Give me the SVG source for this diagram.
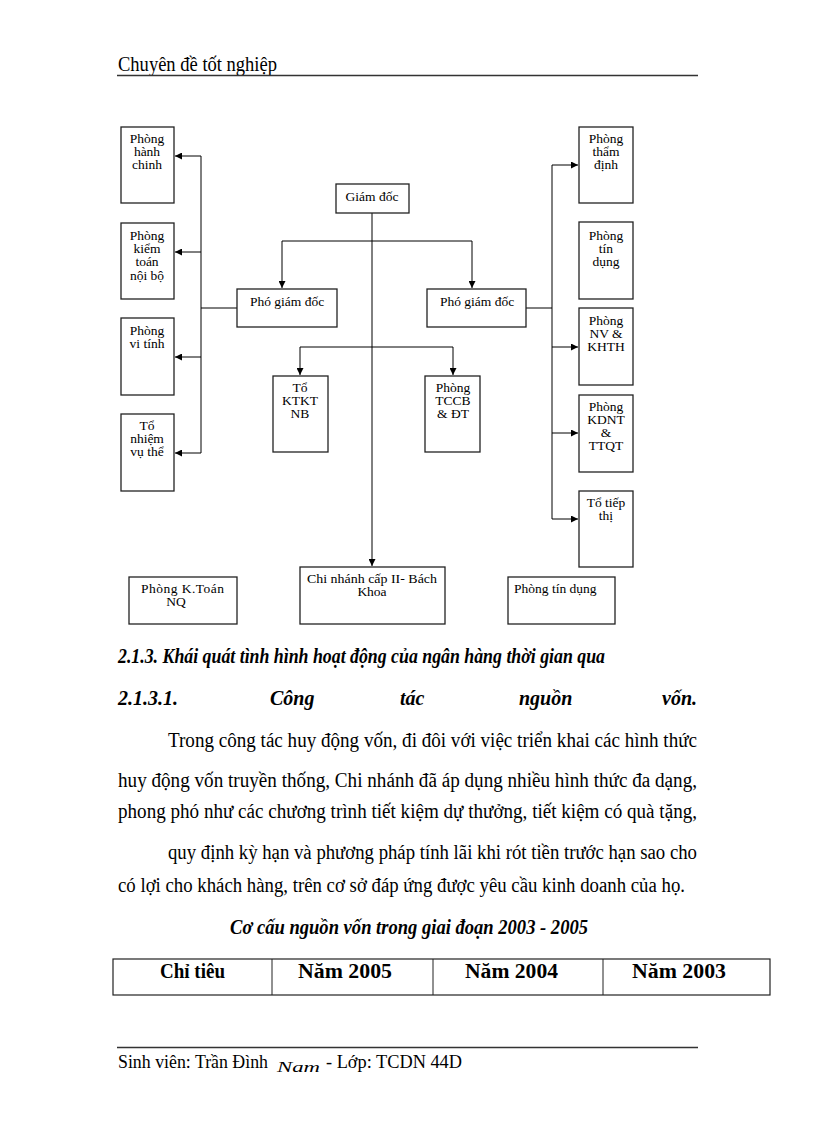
<svg xmlns="http://www.w3.org/2000/svg" width="816" height="1123" viewBox="0 0 816 1123">
<style>
.box{fill:#fff;stroke:#222;stroke-width:1.3}
.ln{fill:none;stroke:#000;stroke-width:1}
.t{font-family:"Liberation Serif","Times New Roman",serif;font-size:13.5px;fill:#000;text-anchor:middle}
.tl{font-family:"Liberation Serif","Times New Roman",serif;font-size:13.5px;fill:#000}
.p{font-family:"Liberation Serif","Times New Roman",serif;font-size:20px;fill:#000}
.h{font-family:"Liberation Serif","Times New Roman",serif;font-size:20px;font-weight:bold;font-style:italic;fill:#000}
.th{font-family:"Liberation Serif","Times New Roman",serif;font-size:20px;font-weight:bold;fill:#000}
</style>
<defs>
<marker id="ah" viewBox="0 0 10 10" refX="10" refY="5" markerWidth="7" markerHeight="7" markerUnits="userSpaceOnUse" orient="auto">
<path d="M0,0 L10,5 L0,10 z" fill="#000"/>
</marker>
</defs>
<rect width="816" height="1123" fill="#fff"/>

<!-- header -->
<text x="118" y="71" font-family="Liberation Serif, Times New Roman, serif" font-size="20" fill="#000" textLength="159" lengthAdjust="spacingAndGlyphs">Chuyên  đề tốt nghiệp</text>
<line x1="117" y1="75.5" x2="698" y2="75.5" stroke="#333" stroke-width="1.5"/>

<!-- connectors -->
<g id="connectors">
<path class="ln" d="M372,213 V566" marker-end="url(#ah)"/>
<path class="ln" d="M282,241 H472"/>
<path class="ln" d="M282,241 V288" marker-end="url(#ah)"/>
<path class="ln" d="M472,241 V288" marker-end="url(#ah)"/>
<path class="ln" d="M237,308 H201"/>
<path class="ln" d="M201,156 V453"/>
<path class="ln" d="M201,156 H175" marker-end="url(#ah)"/>
<path class="ln" d="M201,252 H175" marker-end="url(#ah)"/>
<path class="ln" d="M201,357 H175" marker-end="url(#ah)"/>
<path class="ln" d="M201,453 H175" marker-end="url(#ah)"/>
<path class="ln" d="M526,308 H552"/>
<path class="ln" d="M552,165 V519"/>
<path class="ln" d="M552,165 H578" marker-end="url(#ah)"/>
<path class="ln" d="M552,347 H578" marker-end="url(#ah)"/>
<path class="ln" d="M552,433 H578" marker-end="url(#ah)"/>
<path class="ln" d="M552,519 H578" marker-end="url(#ah)"/>
<path class="ln" d="M300,347 H453"/>
<path class="ln" d="M300,347 V375" marker-end="url(#ah)"/>
<path class="ln" d="M453,347 V375" marker-end="url(#ah)"/>
</g>

<!-- nodes -->
<g id="giam-doc"><rect class="box" x="336" y="184" width="73" height="29"/><text class="t" x="372" y="201">Giám đốc</text></g>
<g id="pgd-trai"><rect class="box" x="237" y="289" width="100" height="38"/><text class="t" x="287" y="306">Phó giám đốc</text></g>
<g id="pgd-phai"><rect class="box" x="427" y="289" width="99" height="38"/><text class="t" x="477" y="306">Phó giám đốc</text></g>

<g id="phong-hanh-chinh"><rect class="box" x="121" y="127" width="53" height="76"/><text class="t" x="147" y="143">Phòng</text><text class="t" x="147" y="156">hành</text><text class="t" x="147" y="169">chinh</text></g>
<g id="phong-kiem-toan"><rect class="box" x="121" y="223" width="53" height="76"/><text class="t" x="147" y="240">Phòng</text><text class="t" x="147" y="253">kiểm</text><text class="t" x="147" y="266">toán</text><text class="t" x="147" y="280">nội bộ</text></g>
<g id="phong-vi-tinh"><rect class="box" x="121" y="318" width="53" height="77"/><text class="t" x="147" y="335">Phòng</text><text class="t" x="147" y="348">vi tính</text></g>
<g id="to-nhiem-vu"><rect class="box" x="121" y="414" width="53" height="77"/><text class="t" x="147" y="430">Tổ</text><text class="t" x="147" y="443">nhiệm</text><text class="t" x="147" y="456">vụ thể</text></g>

<g id="to-ktkt"><rect class="box" x="273" y="376" width="55" height="76"/><text class="t" x="300" y="392">Tổ</text><text class="t" x="300" y="405">KTKT</text><text class="t" x="300" y="418">NB</text></g>
<g id="phong-tccb"><rect class="box" x="425" y="376" width="55" height="76"/><text class="t" x="453" y="392">Phòng</text><text class="t" x="453" y="405">TCCB</text><text class="t" x="453" y="418">&amp; ĐT</text></g>

<g id="phong-tham-dinh"><rect class="box" x="579" y="127" width="54" height="76"/><text class="t" x="606" y="143">Phòng</text><text class="t" x="606" y="156">thẩm</text><text class="t" x="606" y="169">định</text></g>
<g id="phong-tin-dung"><rect class="box" x="579" y="222" width="54" height="77"/><text class="t" x="606" y="240">Phòng</text><text class="t" x="606" y="253">tín</text><text class="t" x="606" y="266">dụng</text></g>
<g id="phong-nv-khth"><rect class="box" x="579" y="308" width="54" height="77"/><text class="t" x="606" y="325">Phòng</text><text class="t" x="606" y="338">NV &amp;</text><text class="t" x="606" y="351">KHTH</text></g>
<g id="phong-kdnt"><rect class="box" x="579" y="395" width="54" height="77"/><text class="t" x="606" y="411">Phòng</text><text class="t" x="606" y="424">KDNT</text><text class="t" x="606" y="437">&amp;</text><text class="t" x="606" y="450">TTQT</text></g>
<g id="to-tiep-thi"><rect class="box" x="579" y="491" width="54" height="76"/><text class="t" x="606" y="507">Tổ tiếp</text><text class="t" x="606" y="520">thị</text></g>

<g id="phong-ktoan-nq"><rect class="box" x="129" y="577" width="108" height="47"/><text class="tl" x="141" y="593" textLength="83" lengthAdjust="spacing">Phòng K.Toán</text><text class="t" x="176" y="606">NQ</text></g>
<g id="chi-nhanh"><rect class="box" x="300" y="567" width="145" height="57"/><text class="tl" x="307" y="583" textLength="130" lengthAdjust="spacingAndGlyphs">Chi nhánh cấp II- Bách</text><text class="t" x="372" y="596">Khoa</text></g>
<g id="phong-tin-dung-2"><rect class="box" x="508" y="577" width="107" height="47"/><text class="tl" x="514" y="593">Phòng tín dụng</text></g>

<!-- body text -->
<text class="h" x="118" y="663" textLength="487" lengthAdjust="spacingAndGlyphs">2.1.3. Khái quát tình hình hoạt động của ngân hàng thời gian qua</text>
<text class="h" x="118" y="705">2.1.3.1.</text>
<text class="h" x="270" y="705">Công</text>
<text class="h" x="400" y="705">tác</text>
<text class="h" x="519" y="705">nguồn</text>
<text class="h" x="697" y="705" text-anchor="end">vốn.</text>
<text class="p" x="168" y="747" textLength="529" lengthAdjust="spacingAndGlyphs">Trong công tác huy động vốn, đi đôi với việc triển khai các hình thức</text>
<text class="p" x="118" y="787" textLength="579" lengthAdjust="spacingAndGlyphs">huy động vốn truyền thống, Chi nhánh đã áp dụng nhiều hình thức đa dạng,</text>
<text class="p" x="118" y="818" textLength="579" lengthAdjust="spacingAndGlyphs">phong phó như các chương trình tiết kiệm dự thưởng, tiết kiệm có quà tặng,</text>
<text class="p" x="168" y="859" textLength="529" lengthAdjust="spacingAndGlyphs">quy định kỳ hạn và phương pháp tính lãi khi rót tiền trước hạn sao cho</text>
<text class="p" x="118" y="892" textLength="567" lengthAdjust="spacingAndGlyphs">có lợi cho khách hàng, trên cơ sở đáp ứng được yêu cầu kinh doanh của họ.</text>
<text class="h" x="230" y="934" textLength="358" lengthAdjust="spacingAndGlyphs">Cơ cấu nguồn vốn trong giai đoạn 2003 - 2005</text>

<!-- table -->
<g id="table">
<rect x="113" y="959" width="657" height="36" fill="none" stroke="#222" stroke-width="1.2"/>
<line x1="272" y1="959" x2="272" y2="995" stroke="#222" stroke-width="1"/>
<line x1="433" y1="959" x2="433" y2="995" stroke="#222" stroke-width="1"/>
<line x1="603" y1="959" x2="603" y2="995" stroke="#222" stroke-width="1"/>
<text class="th" x="160" y="978" textLength="65" lengthAdjust="spacingAndGlyphs">Chỉ tiêu</text>
<text class="th" x="298" y="978" textLength="94" lengthAdjust="spacingAndGlyphs">Năm 2005</text>
<text class="th" x="465" y="978" textLength="93" lengthAdjust="spacingAndGlyphs">Năm 2004</text>
<text class="th" x="632" y="978" textLength="94" lengthAdjust="spacingAndGlyphs">Năm 2003</text>
</g>

<!-- footer -->
<line x1="117" y1="1047.5" x2="698" y2="1047.5" stroke="#333" stroke-width="1.5"/>
<text x="118" y="1068" font-family="Liberation Serif, Times New Roman, serif" font-size="19" fill="#000" textLength="150" lengthAdjust="spacingAndGlyphs">Sinh viên:  Trần Đình</text>
<text x="277" y="1072" font-family="Liberation Serif, Times New Roman, serif" font-size="14" font-style="italic" fill="#000" textLength="43" lengthAdjust="spacingAndGlyphs">Nam</text>
<text x="326" y="1068" font-family="Liberation Serif, Times New Roman, serif" font-size="19" fill="#000" textLength="136" lengthAdjust="spacingAndGlyphs">- Lớp: TCDN 44D</text>
</svg>
